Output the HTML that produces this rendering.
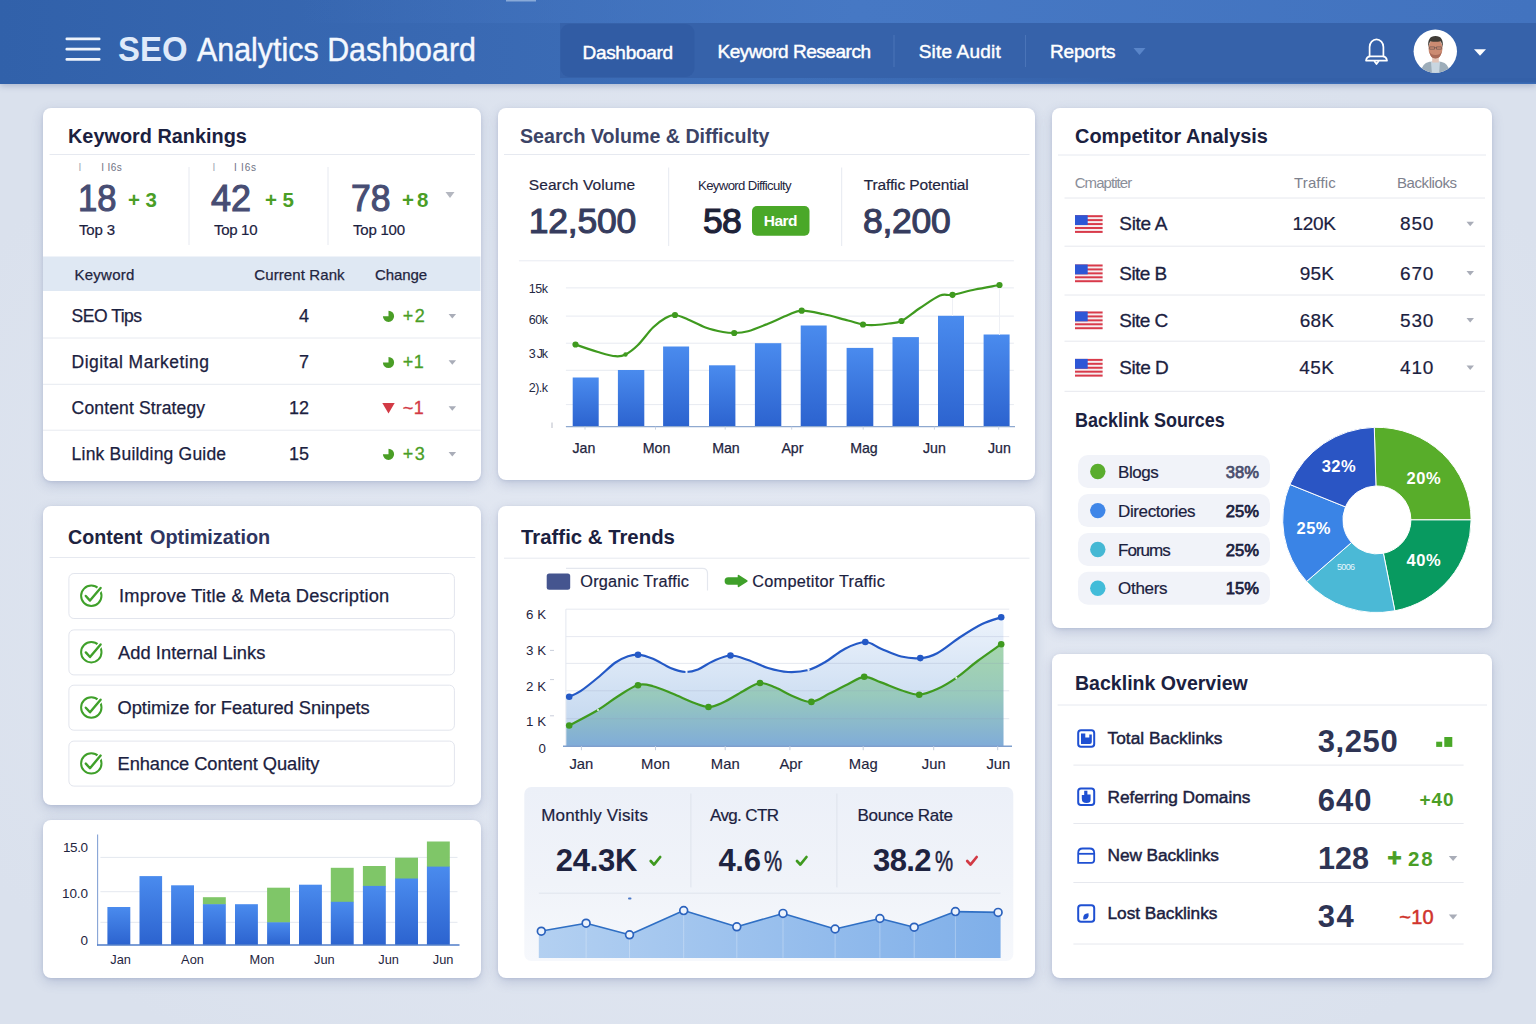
<!DOCTYPE html>
<html lang="en">
<head>
<meta charset="utf-8">
<title>SEO Analytics Dashboard</title>
<style>
html,body{margin:0;padding:0;}
body{width:1536px;height:1024px;overflow:hidden;position:relative;background:#dfe5f0;font-family:"Liberation Sans",sans-serif;}
#bg{position:absolute;left:0;top:0;width:1536px;height:1024px;background:radial-gradient(ellipse 900px 620px at 50% 55%,#e3e8f2 0%,#dfe5f0 60%,#dae1ed 100%);}
#hdr{position:absolute;left:0;top:0;width:1536px;height:84px;background:linear-gradient(90deg,#3161aa 0%,#3969b3 30%,#3f70ba 55%,#3b6cb6 100%);box-shadow:0 2px 6px rgba(60,80,130,.28);}
.card{position:absolute;background:#fff;border-radius:8px;box-shadow:0 4px 12px rgba(84,100,152,.24),0 1px 3px rgba(84,100,152,.14);}
.t{position:absolute;white-space:pre;transform-origin:0 0;}
#gfx{position:absolute;left:0;top:0;}
</style>
</head>
<body>
<div id="bg"></div>
<header id="hdr"></header>
<div class="card" style="left:43.0px;top:108.0px;width:437.5px;height:372.5px;"></div>
<div class="card" style="left:498.0px;top:108.0px;width:536.5px;height:372.0px;"></div>
<div class="card" style="left:1052.0px;top:108.0px;width:440.0px;height:519.5px;"></div>
<div class="card" style="left:43.0px;top:506.0px;width:437.5px;height:298.5px;"></div>
<div class="card" style="left:43.0px;top:820.0px;width:437.7px;height:157.7px;"></div>
<div class="card" style="left:498.0px;top:506.0px;width:536.5px;height:471.9px;"></div>
<div class="card" style="left:1052.0px;top:653.5px;width:440.0px;height:324.0px;"></div>
<svg id="gfx" width="1536" height="1024" viewBox="0 0 1536 1024">
<defs><linearGradient id="gBar" x1="0" y1="0" x2="0" y2="1"><stop offset="0" stop-color="#4a8bee"/><stop offset="1" stop-color="#2c63cf"/></linearGradient><linearGradient id="gBlueA" gradientUnits="userSpaceOnUse" x1="0" y1="612" x2="0" y2="746"><stop offset="0" stop-color="#eef4fc"/><stop offset="1" stop-color="#bdd3ed"/></linearGradient><linearGradient id="gGreenA" gradientUnits="userSpaceOnUse" x1="0" y1="645" x2="0" y2="746"><stop offset="0" stop-color="#a6d6ae"/><stop offset="0.5" stop-color="#98c9bd"/><stop offset="1" stop-color="#80acd8"/></linearGradient><linearGradient id="gSpark" x1="0" y1="0" x2="1" y2="0"><stop offset="0" stop-color="#b3d0f1"/><stop offset="1" stop-color="#7fafe9"/></linearGradient><linearGradient id="gTop" x1="0" y1="0" x2="1" y2="0"><stop offset="0" stop-color="#4476c2" stop-opacity="0"/><stop offset="0.45" stop-color="#4678c4" stop-opacity="1"/><stop offset="1" stop-color="#4273bf" stop-opacity="1"/></linearGradient><linearGradient id="gPanel" x1="0" y1="0" x2="0" y2="1"><stop offset="0" stop-color="#ecf0f8"/><stop offset="0.55" stop-color="#f0f3f9"/><stop offset="1" stop-color="#f6f8fc"/></linearGradient><linearGradient id="gStrip" x1="0" y1="0" x2="1" y2="0"><stop offset="0" stop-color="#3460a8" stop-opacity="0"/><stop offset="0.5" stop-color="#3460a8" stop-opacity="1"/><stop offset="1" stop-color="#3460a8" stop-opacity="1"/></linearGradient><clipPath id="avc"><circle cx="1435.3" cy="51.3" r="21.7"/></clipPath></defs>
<rect x="300" y="0" width="1236" height="23" fill="url(#gTop)"/>
<rect x="560" y="23" width="976" height="55" fill="#3662aa"/>
<rect x="800" y="78" width="736" height="4.500" fill="url(#gStrip)"/>
<rect x="560.5" y="24" width="134" height="53" rx="9" fill="#315ca4"/>
<rect x="506" y="0" width="30" height="1.5" fill="#a9c3e6" opacity=".7"/>
<line x1="894.0" y1="35.0" x2="894.0" y2="67.0" stroke="#4a74b8" stroke-width="1.00"/>
<line x1="1025.5" y1="35.0" x2="1025.5" y2="67.0" stroke="#4a74b8" stroke-width="1.00"/>
<rect x="65.5" y="37.6" width="35" height="2.6" rx="1.2" fill="#eef3fb"/>
<rect x="65.5" y="47.8" width="35" height="2.6" rx="1.2" fill="#eef3fb"/>
<rect x="65.5" y="58.1" width="35" height="2.6" rx="1.2" fill="#eef3fb"/>
<path d="M1133.5 48.0 h12.0 l-6.0 7.0 z" fill="#5985c9"/>
<path d="M1474.0 49.2 h12.0 l-6.0 6.5 z" fill="#ffffff"/>
<g fill="none" stroke="#ffffff" stroke-width="1.7" stroke-linecap="round" stroke-linejoin="round"><path d="M1369.6 56.3 V47 a6.9 7.6 0 0 1 13.8 0 V56.3"/><path d="M1366 60.6 q0.6 -4.3 4.4 -4.3 h12.200 q3.800 0 4.400 4.300 z"/><path d="M1374.600 61.500 l1.900 2.600 l1.900 -2.600"/></g>
<circle cx="1435.3" cy="51.3" r="21.7" fill="#ffffff"/><g clip-path="url(#avc)"><path d="M1420.500 74 q0.500 -10.500 9 -12.300 l11.500 0 q8.500 1.800 9 12.300 z" fill="#9dadb9"/><path d="M1431 61.500 h9 l-1 13 h-7 z" fill="#c9d6e1"/><rect x="1432.200" y="55" width="6.600" height="7.500" fill="#e3c4b8"/><ellipse cx="1435.500" cy="48.500" rx="7" ry="9.800" fill="#cc8b72"/><path d="M1428.300 47.500 q-1.300 -11.500 7.200 -11.500 q8.500 0 7.200 11.500 q-0.800 -5 -2.200 -6.300 q-5 1.300 -10 0 q-1.400 1.300 -2.200 6.300 z" fill="#403c36"/><path d="M1429.300 51.500 q0.700 6.800 6.200 6.900 q5.500 -0.100 6.200 -6.900 q-1.600 3.600 -6.200 3.600 q-4.600 0 -6.200 -3.600 z" fill="#a96a58"/><path d="M1429.600 46.900 h4.900 v2.300 h-4.900 z m6.900 0 h4.900 v2.300 h-4.900 z m-2 .8 h2" stroke="#6a5550" stroke-width="0.700" fill="none"/></g>
<line x1="49.5" y1="154.5" x2="475.0" y2="154.5" stroke="#e6e9f0" stroke-width="1.00"/>
<line x1="189.0" y1="167.0" x2="189.0" y2="245.0" stroke="#e6e9f0" stroke-width="1.00"/>
<line x1="328.0" y1="167.0" x2="328.0" y2="245.0" stroke="#e6e9f0" stroke-width="1.00"/>
<path d="M445.5 192.0 h9.0 l-4.5 6.0 z" fill="#b4b7c0"/>
<rect x="43" y="256.5" width="437.5" height="34.5" fill="#dfe8f3"/>
<path d="M388.5 316.3 L388.5 310.7 A5.6 5.6 0 1 1 382.9 316.3 Z" fill="#4a9e26"/>
<path d="M448.6 314.1 h7.5 l-3.8 4.5 z" fill="#a9adb8"/>
<path d="M388.5 362.5 L388.5 356.9 A5.6 5.6 0 1 1 382.9 362.5 Z" fill="#4a9e26"/>
<path d="M448.6 360.2 h7.5 l-3.8 4.5 z" fill="#a9adb8"/>
<path d="M382.3 403.0 h12.4 l-6.2 10.5 z" fill="#d23a45"/>
<path d="M448.6 406.2 h7.5 l-3.8 4.5 z" fill="#a9adb8"/>
<path d="M388.5 454.3 L388.5 448.7 A5.6 5.6 0 1 1 382.9 454.3 Z" fill="#4a9e26"/>
<path d="M448.6 452.1 h7.5 l-3.8 4.5 z" fill="#a9adb8"/>
<line x1="43.0" y1="338.0" x2="480.5" y2="338.0" stroke="#e7eaf0" stroke-width="1.00"/>
<line x1="43.0" y1="384.3" x2="480.5" y2="384.3" stroke="#e7eaf0" stroke-width="1.00"/>
<line x1="43.0" y1="430.2" x2="480.5" y2="430.2" stroke="#e7eaf0" stroke-width="1.00"/>
<line x1="504.0" y1="154.5" x2="1029.5" y2="154.5" stroke="#e6e9f0" stroke-width="1.00"/>
<line x1="668.7" y1="167.5" x2="668.7" y2="246.0" stroke="#e6e9f0" stroke-width="1.00"/>
<line x1="841.7" y1="167.5" x2="841.7" y2="246.0" stroke="#e6e9f0" stroke-width="1.00"/>
<rect x="752" y="206" width="57.5" height="29.7" rx="5" fill="#4aa828"/>
<line x1="518.9" y1="260.8" x2="1013.9" y2="260.8" stroke="#e9ecf2" stroke-width="1.00"/>
<line x1="565.9" y1="287.9" x2="1013.9" y2="287.9" stroke="#e7eaf1" stroke-width="1.00"/>
<line x1="565.9" y1="316.1" x2="1013.9" y2="316.1" stroke="#e7eaf1" stroke-width="1.00"/>
<line x1="565.9" y1="343.2" x2="1013.9" y2="343.2" stroke="#e7eaf1" stroke-width="1.00"/>
<line x1="565.9" y1="370.3" x2="1013.9" y2="370.3" stroke="#e7eaf1" stroke-width="1.00"/>
<line x1="565.9" y1="404.6" x2="1013.9" y2="404.6" stroke="#e7eaf1" stroke-width="1.00"/>
<rect x="572.7" y="377.5" width="26.0" height="49.1" fill="url(#gBar)"/>
<rect x="617.9" y="370.0" width="26.4" height="56.7" fill="url(#gBar)"/>
<rect x="663.1" y="346.5" width="26.0" height="80.2" fill="url(#gBar)"/>
<rect x="709.0" y="365.3" width="26.4" height="61.4" fill="url(#gBar)"/>
<rect x="754.9" y="343.2" width="26.4" height="83.5" fill="url(#gBar)"/>
<rect x="800.7" y="325.5" width="26.0" height="101.2" fill="url(#gBar)"/>
<rect x="846.6" y="347.9" width="26.7" height="78.8" fill="url(#gBar)"/>
<rect x="892.5" y="337.1" width="26.4" height="89.6" fill="url(#gBar)"/>
<rect x="938.0" y="315.8" width="26.0" height="110.9" fill="url(#gBar)"/>
<rect x="983.6" y="334.5" width="26.0" height="92.1" fill="url(#gBar)"/>
<line x1="565.9" y1="426.7" x2="1015.0" y2="426.7" stroke="#8fa9cf" stroke-width="1.30"/>
<line x1="585.0" y1="426.7" x2="585.0" y2="429.6" stroke="#c9d3e3" stroke-width="1.00"/>
<line x1="655.5" y1="426.7" x2="655.5" y2="429.6" stroke="#c9d3e3" stroke-width="1.00"/>
<line x1="725.2" y1="426.7" x2="725.2" y2="429.6" stroke="#c9d3e3" stroke-width="1.00"/>
<line x1="791.7" y1="426.7" x2="791.7" y2="429.6" stroke="#c9d3e3" stroke-width="1.00"/>
<line x1="863.2" y1="426.7" x2="863.2" y2="429.6" stroke="#c9d3e3" stroke-width="1.00"/>
<line x1="934.4" y1="426.7" x2="934.4" y2="429.6" stroke="#c9d3e3" stroke-width="1.00"/>
<line x1="998.7" y1="426.7" x2="998.7" y2="429.6" stroke="#c9d3e3" stroke-width="1.00"/>
<line x1="552.0" y1="422.5" x2="552.0" y2="428.0" stroke="#b9bdc8" stroke-width="1.00"/>
<path d="M575.5 344.5 C579.2 345.8 591.3 350.1 598.0 352.0 C604.7 353.9 610.9 355.8 615.5 356.2 C620.1 356.6 621.8 356.4 625.5 354.5 C629.2 352.6 633.4 349.5 638.0 345.0 C642.6 340.5 648.4 332.0 653.0 327.5 C657.6 323.0 661.8 320.1 665.5 318.0 C669.2 315.9 671.2 314.8 675.0 315.0 C678.8 315.2 682.9 317.4 688.0 319.5 C693.1 321.6 699.7 325.4 705.5 327.5 C711.3 329.6 718.2 331.1 723.0 332.0 C727.8 332.9 730.0 333.1 734.2 333.0 C738.4 332.9 742.4 332.8 748.0 331.2 C753.6 329.6 761.3 326.4 768.0 323.7 C774.7 321.0 782.4 317.2 788.0 315.0 C793.6 312.8 795.9 310.9 801.7 310.7 C807.5 310.5 815.3 312.4 823.0 314.0 C830.7 315.6 841.3 318.8 848.0 320.5 C854.7 322.2 858.5 323.8 863.0 324.5 C867.5 325.2 870.7 325.2 875.0 325.0 C879.3 324.8 884.6 324.2 889.0 323.5 C893.4 322.8 896.3 323.6 901.5 321.0 C906.7 318.4 913.6 312.2 920.0 308.0 C926.4 303.8 934.6 297.7 940.0 295.5 C945.4 293.3 946.7 295.8 952.5 294.8 C958.3 293.8 967.2 291.1 975.0 289.5 C982.8 287.9 995.4 285.8 999.5 285.0" fill="none" stroke="#3f9a1f" stroke-width="2.2" stroke-linecap="round" stroke-linejoin="round"/>
<circle cx="575.5" cy="344.5" r="3.1" fill="#3f9a1f"/>
<circle cx="675.0" cy="315.0" r="3.1" fill="#3f9a1f"/>
<circle cx="734.2" cy="333.0" r="3.1" fill="#3f9a1f"/>
<circle cx="801.7" cy="310.7" r="3.1" fill="#3f9a1f"/>
<circle cx="863.0" cy="324.5" r="3.1" fill="#3f9a1f"/>
<circle cx="901.5" cy="321.0" r="3.1" fill="#3f9a1f"/>
<circle cx="952.5" cy="294.8" r="3.1" fill="#3f9a1f"/>
<circle cx="999.5" cy="285.0" r="3.1" fill="#3f9a1f"/>
<circle cx="625.5" cy="354.5" r="2.2" fill="#3f9a1f"/>
<line x1="952.5" y1="298.0" x2="952.5" y2="316.0" stroke="#eef0f5" stroke-width="1.00"/>
<line x1="999.5" y1="288.0" x2="999.5" y2="335.0" stroke="#eef0f5" stroke-width="1.00"/>
<line x1="1058.0" y1="155.0" x2="1486.0" y2="155.0" stroke="#e6e9f0" stroke-width="1.00"/>
<line x1="1064.5" y1="198.0" x2="1485.0" y2="198.0" stroke="#e6e8ee" stroke-width="1.00"/>
<line x1="1064.5" y1="246.2" x2="1485.0" y2="246.2" stroke="#e6e8ee" stroke-width="1.00"/>
<line x1="1064.5" y1="295.0" x2="1485.0" y2="295.0" stroke="#e6e8ee" stroke-width="1.00"/>
<line x1="1064.5" y1="341.2" x2="1485.0" y2="341.2" stroke="#e6e8ee" stroke-width="1.00"/>
<line x1="1064.5" y1="391.3" x2="1485.0" y2="391.3" stroke="#e6e8ee" stroke-width="1.00"/>
<g><rect x="1075.0" y="215.2" width="27.6" height="17.7" fill="#f6eef0"/><rect x="1075.0" y="215.20" width="27.6" height="1.97" fill="#d93a4a"/><rect x="1075.0" y="219.13" width="27.6" height="1.97" fill="#d93a4a"/><rect x="1075.0" y="223.07" width="27.6" height="1.97" fill="#d93a4a"/><rect x="1075.0" y="227.00" width="27.6" height="1.97" fill="#d93a4a"/><rect x="1075.0" y="230.93" width="27.6" height="1.97" fill="#d93a4a"/><rect x="1075.0" y="215.2" width="12.7" height="9.83" fill="#2d56d6"/></g>
<path d="M1466.5 221.8 h7.5 l-3.8 4.5 z" fill="#a9adb8"/>
<g><rect x="1075.0" y="264.5" width="27.6" height="17.7" fill="#f6eef0"/><rect x="1075.0" y="264.50" width="27.6" height="1.97" fill="#d93a4a"/><rect x="1075.0" y="268.43" width="27.6" height="1.97" fill="#d93a4a"/><rect x="1075.0" y="272.37" width="27.6" height="1.97" fill="#d93a4a"/><rect x="1075.0" y="276.30" width="27.6" height="1.97" fill="#d93a4a"/><rect x="1075.0" y="280.23" width="27.6" height="1.97" fill="#d93a4a"/><rect x="1075.0" y="264.5" width="12.7" height="9.83" fill="#2d56d6"/></g>
<path d="M1466.5 271.1 h7.5 l-3.8 4.5 z" fill="#a9adb8"/>
<g><rect x="1075.0" y="311.5" width="27.6" height="17.7" fill="#f6eef0"/><rect x="1075.0" y="311.50" width="27.6" height="1.97" fill="#d93a4a"/><rect x="1075.0" y="315.43" width="27.6" height="1.97" fill="#d93a4a"/><rect x="1075.0" y="319.37" width="27.6" height="1.97" fill="#d93a4a"/><rect x="1075.0" y="323.30" width="27.6" height="1.97" fill="#d93a4a"/><rect x="1075.0" y="327.23" width="27.6" height="1.97" fill="#d93a4a"/><rect x="1075.0" y="311.5" width="12.7" height="9.83" fill="#2d56d6"/></g>
<path d="M1466.5 318.1 h7.5 l-3.8 4.5 z" fill="#a9adb8"/>
<g><rect x="1075.0" y="358.9" width="27.6" height="17.7" fill="#f6eef0"/><rect x="1075.0" y="358.90" width="27.6" height="1.97" fill="#d93a4a"/><rect x="1075.0" y="362.83" width="27.6" height="1.97" fill="#d93a4a"/><rect x="1075.0" y="366.77" width="27.6" height="1.97" fill="#d93a4a"/><rect x="1075.0" y="370.70" width="27.6" height="1.97" fill="#d93a4a"/><rect x="1075.0" y="374.63" width="27.6" height="1.97" fill="#d93a4a"/><rect x="1075.0" y="358.9" width="12.7" height="9.83" fill="#2d56d6"/></g>
<path d="M1466.5 365.4 h7.5 l-3.8 4.5 z" fill="#a9adb8"/>
<rect x="1078" y="455.0" width="192" height="33" rx="10" fill="#f1f3f9"/>
<circle cx="1097.8" cy="471.5" r="7.7" fill="#5aad2e"/>
<rect x="1078" y="494.1" width="192" height="33" rx="10" fill="#f1f3f9"/>
<circle cx="1097.8" cy="510.6" r="7.7" fill="#3f86e8"/>
<rect x="1078" y="533.0" width="192" height="33" rx="10" fill="#f1f3f9"/>
<circle cx="1097.8" cy="549.5" r="7.7" fill="#45b8d4"/>
<rect x="1078" y="571.7" width="192" height="33" rx="10" fill="#f1f3f9"/>
<circle cx="1097.8" cy="588.2" r="7.7" fill="#42bcd9"/>
<path d="M1374.27 427.34 A94.2 92.6 0 0 1 1471.10 519.90 L1410.90 519.90 A34.0 34.0 0 0 0 1375.95 485.91 Z" fill="#58ad2a" stroke="#ffffff" stroke-width="1"/>
<path d="M1471.10 519.90 A94.2 92.6 0 0 1 1394.87 610.80 L1383.39 553.28 A34.0 34.0 0 0 0 1410.90 519.90 Z" fill="#089a60" stroke="#ffffff" stroke-width="1"/>
<path d="M1394.87 610.80 A94.2 92.6 0 0 1 1306.57 581.50 L1351.51 542.52 A34.0 34.0 0 0 0 1383.39 553.28 Z" fill="#4bb9d6" stroke="#ffffff" stroke-width="1"/>
<path d="M1306.57 581.50 A94.2 92.6 0 0 1 1289.87 484.46 L1345.49 506.89 A34.0 34.0 0 0 0 1351.51 542.52 Z" fill="#3a84e6" stroke="#ffffff" stroke-width="1"/>
<path d="M1289.87 484.46 A94.2 92.6 0 0 1 1374.27 427.34 L1375.95 485.91 A34.0 34.0 0 0 0 1345.49 506.89 Z" fill="#2a55c4" stroke="#ffffff" stroke-width="1"/>
<line x1="49.5" y1="557.5" x2="475.3" y2="557.5" stroke="#e6e9f0" stroke-width="1.00"/>
<rect x="68.9" y="573.5" width="385.5" height="45" rx="5" fill="#ffffff" stroke="#e2e5ed" stroke-width="1"/>
<circle cx="91.3" cy="595.8" r="10.2" fill="none" stroke="#3fa02a" stroke-width="2"/>
<path d="M85.8 596.0 l4.2 4.6 l10.6 -12.6" fill="none" stroke="#ffffff" stroke-width="5.2" stroke-linecap="round" stroke-linejoin="round"/>
<path d="M85.8 596.0 l4.2 4.6 l10.6 -12.6" fill="none" stroke="#3fa02a" stroke-width="2.4" stroke-linecap="round" stroke-linejoin="round"/>
<rect x="68.9" y="629.9" width="385.5" height="45" rx="5" fill="#ffffff" stroke="#e2e5ed" stroke-width="1"/>
<circle cx="91.3" cy="652.2" r="10.2" fill="none" stroke="#3fa02a" stroke-width="2"/>
<path d="M85.8 652.4 l4.2 4.6 l10.6 -12.6" fill="none" stroke="#ffffff" stroke-width="5.2" stroke-linecap="round" stroke-linejoin="round"/>
<path d="M85.8 652.4 l4.2 4.6 l10.6 -12.6" fill="none" stroke="#3fa02a" stroke-width="2.4" stroke-linecap="round" stroke-linejoin="round"/>
<rect x="68.9" y="685.2" width="385.5" height="45" rx="5" fill="#ffffff" stroke="#e2e5ed" stroke-width="1"/>
<circle cx="91.3" cy="707.5" r="10.2" fill="none" stroke="#3fa02a" stroke-width="2"/>
<path d="M85.8 707.7 l4.2 4.6 l10.6 -12.6" fill="none" stroke="#ffffff" stroke-width="5.2" stroke-linecap="round" stroke-linejoin="round"/>
<path d="M85.8 707.7 l4.2 4.6 l10.6 -12.6" fill="none" stroke="#3fa02a" stroke-width="2.4" stroke-linecap="round" stroke-linejoin="round"/>
<rect x="68.9" y="741.1" width="385.5" height="45" rx="5" fill="#ffffff" stroke="#e2e5ed" stroke-width="1"/>
<circle cx="91.3" cy="763.4" r="10.2" fill="none" stroke="#3fa02a" stroke-width="2"/>
<path d="M85.8 763.6 l4.2 4.6 l10.6 -12.6" fill="none" stroke="#ffffff" stroke-width="5.2" stroke-linecap="round" stroke-linejoin="round"/>
<path d="M85.8 763.6 l4.2 4.6 l10.6 -12.6" fill="none" stroke="#3fa02a" stroke-width="2.4" stroke-linecap="round" stroke-linejoin="round"/>
<line x1="100.4" y1="857.4" x2="457.5" y2="857.4" stroke="#e4e8ef" stroke-width="1.00"/>
<line x1="100.4" y1="891.7" x2="457.5" y2="891.7" stroke="#e4e8ef" stroke-width="1.00"/>
<line x1="100.4" y1="922.3" x2="457.5" y2="922.3" stroke="#e4e8ef" stroke-width="1.00"/>
<rect x="107.4" y="907.0" width="22.9" height="37.9" fill="url(#gBar)"/>
<rect x="139.5" y="876.1" width="22.6" height="68.8" fill="url(#gBar)"/>
<rect x="171.1" y="885.3" width="22.9" height="59.7" fill="url(#gBar)"/>
<rect x="202.9" y="897.2" width="22.9" height="7.5" fill="#7fc668"/>
<rect x="202.9" y="904.2" width="22.9" height="40.7" fill="url(#gBar)"/>
<rect x="235.0" y="904.2" width="22.9" height="40.7" fill="url(#gBar)"/>
<rect x="267.1" y="887.7" width="22.9" height="35.1" fill="#7fc668"/>
<rect x="267.1" y="922.3" width="22.9" height="22.6" fill="url(#gBar)"/>
<rect x="299.0" y="884.7" width="22.9" height="60.3" fill="url(#gBar)"/>
<rect x="330.8" y="867.8" width="22.9" height="34.5" fill="#7fc668"/>
<rect x="330.8" y="901.8" width="22.9" height="43.1" fill="url(#gBar)"/>
<rect x="362.9" y="866.0" width="22.9" height="20.4" fill="#7fc668"/>
<rect x="362.9" y="885.9" width="22.9" height="59.1" fill="url(#gBar)"/>
<rect x="395.1" y="857.7" width="22.9" height="21.3" fill="#7fc668"/>
<rect x="395.1" y="878.5" width="22.9" height="66.4" fill="url(#gBar)"/>
<rect x="426.9" y="841.5" width="22.9" height="25.6" fill="#7fc668"/>
<rect x="426.9" y="866.6" width="22.9" height="78.3" fill="url(#gBar)"/>
<line x1="97.6" y1="834.5" x2="97.6" y2="945.5" stroke="#86a3d6" stroke-width="1.10"/>
<line x1="97.0" y1="945.0" x2="459.5" y2="945.0" stroke="#4f7cc8" stroke-width="1.40"/>
<line x1="504.0" y1="558.2" x2="1029.5" y2="558.2" stroke="#e6e9f0" stroke-width="1.00"/>
<path d="M566 568.3 H702.500 q5 0 5 5 V590.500" fill="none" stroke="#e4e7ee" stroke-width="1.200"/>
<rect x="546.7" y="573.4" width="23.5" height="16.3" rx="2.5" fill="#45558f"/>
<path d="M728.3 581 H739" fill="none" stroke="#3fa02a" stroke-width="7.4" stroke-linecap="round"/>
<path d="M738.5 575.6 L746.800 581 L738.500 586.400 Z" fill="#3fa02a" stroke="#3fa02a" stroke-width="1.600" stroke-linejoin="round"/>
<path d="M566.0 698.5 C566.5 698.2 566.8 698.0 569.2 696.8 C571.6 695.6 575.7 694.4 580.5 691.2 C585.3 688.0 592.2 682.3 598.0 677.5 C603.8 672.7 610.5 666.0 615.5 662.5 C620.5 659.0 624.2 657.5 628.0 656.2 C631.8 654.9 633.8 654.2 638.0 654.6 C642.2 655.0 647.6 656.6 653.0 658.8 C658.4 661.0 665.1 665.8 670.5 668.0 C675.9 670.2 680.9 671.8 685.5 672.0 C690.1 672.2 693.4 671.3 698.0 669.5 C702.6 667.7 707.6 663.5 713.0 661.2 C718.4 658.9 724.7 655.7 730.5 655.5 C736.3 655.3 741.8 657.9 748.0 660.0 C754.2 662.1 761.3 666.0 768.0 668.0 C774.7 670.0 781.2 671.7 788.0 672.0 C794.8 672.3 802.4 671.6 808.5 670.0 C814.6 668.4 818.8 665.8 824.9 662.2 C831.0 658.7 838.4 652.1 845.1 648.7 C851.8 645.3 859.3 642.0 865.3 642.0 C871.3 642.0 875.0 646.3 881.0 648.7 C887.0 651.1 894.7 654.9 901.2 656.5 C907.8 658.1 914.3 658.6 920.3 658.1 C926.3 657.6 930.7 656.6 937.2 653.2 C943.8 649.8 952.1 642.4 959.6 637.5 C967.1 632.6 975.2 627.4 982.1 624.0 C989.0 620.6 997.7 618.5 1001.2 617.3 C1004.8 616.1 1003.0 616.7 1003.4 616.6 L1003.4 746.2 L566.0 746.2 Z" fill="url(#gBlueA)"/>
<path d="M566.0 727.3 C566.5 727.0 563.9 728.4 569.2 725.5 C574.5 722.6 589.9 714.9 598.0 710.0 C606.1 705.1 611.3 700.4 618.0 696.2 C624.7 692.0 632.2 686.7 638.0 685.0 C643.8 683.3 647.2 684.7 653.0 686.2 C658.8 687.7 666.3 691.1 673.0 693.8 C679.7 696.5 687.1 700.3 693.0 702.5 C698.9 704.7 703.5 707.0 708.5 707.0 C713.5 707.0 717.2 705.1 723.0 702.5 C728.8 699.9 736.8 694.5 743.0 691.2 C749.2 688.0 754.6 683.6 760.0 683.0 C765.4 682.4 770.0 685.3 775.5 687.5 C781.0 689.7 787.0 693.8 793.0 696.2 C799.0 698.6 805.3 702.3 811.4 701.9 C817.5 701.5 823.4 696.5 829.4 693.6 C835.4 690.7 841.6 687.4 847.4 684.6 C853.2 681.8 858.6 677.2 864.2 676.8 C869.8 676.4 874.8 680.2 881.0 682.4 C887.2 684.6 894.8 688.2 901.2 690.2 C907.6 692.2 913.2 694.9 919.2 694.7 C925.2 694.5 931.0 691.9 937.2 689.1 C943.4 686.3 949.6 682.6 956.3 677.9 C963.0 673.2 970.1 666.6 977.6 661.0 C985.1 655.4 996.9 647.3 1001.2 644.2 C1005.5 641.1 1003.0 642.9 1003.4 642.6 L1003.4 746.2 L566.0 746.2 Z" fill="url(#gGreenA)"/>
<line x1="565.9" y1="609.2" x2="1009.2" y2="609.2" stroke="rgba(140,155,185,.22)" stroke-width="1.00"/>
<line x1="565.9" y1="636.6" x2="1009.2" y2="636.6" stroke="rgba(140,155,185,.22)" stroke-width="1.00"/>
<line x1="565.9" y1="663.4" x2="1009.2" y2="663.4" stroke="rgba(140,155,185,.22)" stroke-width="1.00"/>
<line x1="565.9" y1="690.8" x2="1009.2" y2="690.8" stroke="rgba(140,155,185,.22)" stroke-width="1.00"/>
<line x1="565.9" y1="718.7" x2="1009.2" y2="718.7" stroke="rgba(140,155,185,.22)" stroke-width="1.00"/>
<line x1="565.9" y1="609.2" x2="565.9" y2="746.2" stroke="#e3e7ef" stroke-width="1.00"/>
<path d="M569.2 696.8 C571.1 695.9 575.7 694.4 580.5 691.2 C585.3 688.0 592.2 682.3 598.0 677.5 C603.8 672.7 610.5 666.0 615.5 662.5 C620.5 659.0 624.2 657.5 628.0 656.2 C631.8 654.9 633.8 654.2 638.0 654.6 C642.2 655.0 647.6 656.6 653.0 658.8 C658.4 661.0 665.1 665.8 670.5 668.0 C675.9 670.2 680.9 671.8 685.5 672.0 C690.1 672.2 693.4 671.3 698.0 669.5 C702.6 667.7 707.6 663.5 713.0 661.2 C718.4 658.9 724.7 655.7 730.5 655.5 C736.3 655.3 741.8 657.9 748.0 660.0 C754.2 662.1 761.3 666.0 768.0 668.0 C774.7 670.0 781.2 671.7 788.0 672.0 C794.8 672.3 802.4 671.6 808.5 670.0 C814.6 668.4 818.8 665.8 824.9 662.2 C831.0 658.7 838.4 652.1 845.1 648.7 C851.8 645.3 859.3 642.0 865.3 642.0 C871.3 642.0 875.0 646.3 881.0 648.7 C887.0 651.1 894.7 654.9 901.2 656.5 C907.8 658.1 914.3 658.6 920.3 658.1 C926.3 657.6 930.7 656.6 937.2 653.2 C943.8 649.8 952.1 642.4 959.6 637.5 C967.1 632.6 975.2 627.4 982.1 624.0 C989.0 620.6 998.0 618.4 1001.2 617.3" fill="none" stroke="#2459c6" stroke-width="2.2" stroke-linecap="round"/>
<path d="M569.2 725.5 C574.0 722.9 589.9 714.9 598.0 710.0 C606.1 705.1 611.3 700.4 618.0 696.2 C624.7 692.0 632.2 686.7 638.0 685.0 C643.8 683.3 647.2 684.7 653.0 686.2 C658.8 687.7 666.3 691.1 673.0 693.8 C679.7 696.5 687.1 700.3 693.0 702.5 C698.9 704.7 703.5 707.0 708.5 707.0 C713.5 707.0 717.2 705.1 723.0 702.5 C728.8 699.9 736.8 694.5 743.0 691.2 C749.2 688.0 754.6 683.6 760.0 683.0 C765.4 682.4 770.0 685.3 775.5 687.5 C781.0 689.7 787.0 693.8 793.0 696.2 C799.0 698.6 805.3 702.3 811.4 701.9 C817.5 701.5 823.4 696.5 829.4 693.6 C835.4 690.7 841.6 687.4 847.4 684.6 C853.2 681.8 858.6 677.2 864.2 676.8 C869.8 676.4 874.8 680.2 881.0 682.4 C887.2 684.6 894.8 688.2 901.2 690.2 C907.6 692.2 913.2 694.9 919.2 694.7 C925.2 694.5 931.0 691.9 937.2 689.1 C943.4 686.3 949.6 682.6 956.3 677.9 C963.0 673.2 970.1 666.6 977.6 661.0 C985.1 655.4 997.3 647.0 1001.2 644.2" fill="none" stroke="#3f9a1f" stroke-width="2.2" stroke-linecap="round"/>
<circle cx="569.2" cy="696.8" r="3.3" fill="#2459c6"/>
<circle cx="638.0" cy="654.8" r="3.3" fill="#2459c6"/>
<circle cx="730.5" cy="655.5" r="3.3" fill="#2459c6"/>
<circle cx="865.3" cy="642.0" r="3.3" fill="#2459c6"/>
<circle cx="920.3" cy="658.1" r="3.3" fill="#2459c6"/>
<circle cx="1001.2" cy="617.3" r="3.3" fill="#2459c6"/>
<circle cx="686.5" cy="672.0" r="1.2" fill="#e9f0fb"/>
<circle cx="808.5" cy="669.8" r="1.2" fill="#e9f0fb"/>
<circle cx="569.2" cy="725.5" r="3.3" fill="#3f9a1f"/>
<circle cx="638.0" cy="685.3" r="3.3" fill="#3f9a1f"/>
<circle cx="708.5" cy="707.0" r="3.3" fill="#3f9a1f"/>
<circle cx="760.0" cy="683.0" r="3.3" fill="#3f9a1f"/>
<circle cx="811.4" cy="701.9" r="3.3" fill="#3f9a1f"/>
<circle cx="864.2" cy="676.8" r="3.3" fill="#3f9a1f"/>
<circle cx="919.2" cy="694.7" r="3.3" fill="#3f9a1f"/>
<circle cx="1001.2" cy="644.2" r="3.3" fill="#3f9a1f"/>
<circle cx="598.0" cy="710.0" r="1.1" fill="#e6f4e0"/>
<circle cx="956.3" cy="677.9" r="1.1" fill="#e6f4e0"/>
<line x1="563.0" y1="746.2" x2="1012.0" y2="746.2" stroke="#7f9fcd" stroke-width="1.40"/>
<line x1="581.4" y1="746.2" x2="581.4" y2="750.2" stroke="#c3cede" stroke-width="1.00"/>
<line x1="655.5" y1="746.2" x2="655.5" y2="750.2" stroke="#c3cede" stroke-width="1.00"/>
<line x1="725.2" y1="746.2" x2="725.2" y2="750.2" stroke="#c3cede" stroke-width="1.00"/>
<line x1="789.9" y1="746.2" x2="789.9" y2="750.2" stroke="#c3cede" stroke-width="1.00"/>
<line x1="863.2" y1="746.2" x2="863.2" y2="750.2" stroke="#c3cede" stroke-width="1.00"/>
<line x1="933.7" y1="746.2" x2="933.7" y2="750.2" stroke="#c3cede" stroke-width="1.00"/>
<line x1="997.7" y1="746.2" x2="997.7" y2="750.2" stroke="#c3cede" stroke-width="1.00"/>
<line x1="550.0" y1="650.4" x2="554.0" y2="650.4" stroke="#c9ceda" stroke-width="1.00"/>
<line x1="550.0" y1="679.6" x2="554.0" y2="679.6" stroke="#c9ceda" stroke-width="1.00"/>
<line x1="550.0" y1="715.8" x2="554.0" y2="715.8" stroke="#c9ceda" stroke-width="1.00"/>
<rect x="524.3" y="787" width="489" height="174" rx="7" fill="url(#gPanel)"/>
<line x1="690.9" y1="793.5" x2="690.9" y2="887.4" stroke="#dfe3ec" stroke-width="1.00"/>
<line x1="836.9" y1="793.5" x2="836.9" y2="887.4" stroke="#dfe3ec" stroke-width="1.00"/>
<path d="M650.7 861.0 l3.3 3.6 l6.2 -7.6" fill="none" stroke="#3f9a1f" stroke-width="2.7" stroke-linecap="round" stroke-linejoin="round"/>
<path d="M797.0 861.0 l3.3 3.6 l6.2 -7.6" fill="none" stroke="#3f9a1f" stroke-width="2.7" stroke-linecap="round" stroke-linejoin="round"/>
<path d="M967.2 861.0 l3.3 3.6 l6.2 -7.6" fill="none" stroke="#d23a45" stroke-width="2.7" stroke-linecap="round" stroke-linejoin="round"/>
<line x1="538.8" y1="893.2" x2="1000.5" y2="893.2" stroke="#dfe4ed" stroke-width="1.00"/>
<path d="M538.8 931.5 L586.1 923.2 L629.5 934.8 L683.7 910.6 L736.8 926.8 L783.0 913.4 L835.1 929.0 L879.9 918.5 L914.2 927.2 L955.4 911.6 L1000.6 912.4 L1000.6 957.9 L538.8 957.9 Z" fill="url(#gSpark)"/>
<line x1="586.1" y1="923.2" x2="586.1" y2="957.9" stroke="rgba(255,255,255,.28)" stroke-width="1.00"/>
<line x1="629.5" y1="934.8" x2="629.5" y2="957.9" stroke="rgba(255,255,255,.28)" stroke-width="1.00"/>
<line x1="683.7" y1="910.6" x2="683.7" y2="957.9" stroke="rgba(255,255,255,.28)" stroke-width="1.00"/>
<line x1="736.8" y1="926.8" x2="736.8" y2="957.9" stroke="rgba(255,255,255,.28)" stroke-width="1.00"/>
<line x1="783.0" y1="913.4" x2="783.0" y2="957.9" stroke="rgba(255,255,255,.28)" stroke-width="1.00"/>
<line x1="835.1" y1="929.0" x2="835.1" y2="957.9" stroke="rgba(255,255,255,.28)" stroke-width="1.00"/>
<line x1="879.9" y1="918.5" x2="879.9" y2="957.9" stroke="rgba(255,255,255,.28)" stroke-width="1.00"/>
<line x1="914.2" y1="927.2" x2="914.2" y2="957.9" stroke="rgba(255,255,255,.28)" stroke-width="1.00"/>
<line x1="955.4" y1="911.6" x2="955.4" y2="957.9" stroke="rgba(255,255,255,.28)" stroke-width="1.00"/>
<path d="M538.8 931.5 L586.1 923.2 L629.5 934.8 L683.7 910.6 L736.8 926.8 L783.0 913.4 L835.1 929.0 L879.9 918.5 L914.2 927.2 L955.4 911.6 L1000.6 912.4" fill="none" stroke="#2f6fc4" stroke-width="1.6" stroke-linejoin="round"/>
<circle cx="541.3" cy="931.2" r="3.9" fill="#edf3fc" stroke="#2b62bd" stroke-width="1.7"/>
<circle cx="586.1" cy="923.2" r="3.9" fill="#edf3fc" stroke="#2b62bd" stroke-width="1.7"/>
<circle cx="629.5" cy="934.8" r="3.9" fill="#edf3fc" stroke="#2b62bd" stroke-width="1.7"/>
<circle cx="683.7" cy="910.6" r="3.9" fill="#edf3fc" stroke="#2b62bd" stroke-width="1.7"/>
<circle cx="736.8" cy="926.8" r="3.9" fill="#edf3fc" stroke="#2b62bd" stroke-width="1.7"/>
<circle cx="783.0" cy="913.4" r="3.9" fill="#edf3fc" stroke="#2b62bd" stroke-width="1.7"/>
<circle cx="835.1" cy="929.0" r="3.9" fill="#edf3fc" stroke="#2b62bd" stroke-width="1.7"/>
<circle cx="879.9" cy="918.5" r="3.9" fill="#edf3fc" stroke="#2b62bd" stroke-width="1.7"/>
<circle cx="914.2" cy="927.2" r="3.9" fill="#edf3fc" stroke="#2b62bd" stroke-width="1.7"/>
<circle cx="955.4" cy="911.6" r="3.9" fill="#edf3fc" stroke="#2b62bd" stroke-width="1.7"/>
<circle cx="998.1" cy="912.4" r="3.9" fill="#edf3fc" stroke="#2b62bd" stroke-width="1.7"/>
<rect x="628" y="897.5" width="3.5" height="2" rx="1" fill="#4a78c8"/>
<line x1="1057.6" y1="705.0" x2="1487.0" y2="705.0" stroke="#e6e9f0" stroke-width="1.00"/>
<line x1="1073.4" y1="765.1" x2="1463.6" y2="765.1" stroke="#e6e8ee" stroke-width="1.00"/>
<line x1="1073.4" y1="823.5" x2="1463.6" y2="823.5" stroke="#e6e8ee" stroke-width="1.00"/>
<line x1="1073.4" y1="882.5" x2="1463.6" y2="882.5" stroke="#e6e8ee" stroke-width="1.00"/>
<line x1="1073.4" y1="944.0" x2="1463.6" y2="944.0" stroke="#e6e8ee" stroke-width="1.00"/>
<g><rect x="1078.2" y="730.2" width="16" height="16.5" rx="2.8" fill="#fff" stroke="#1f50d2" stroke-width="2"/><path d="M1081 733.5 h4.300 v4 h4 v-3 h2.500 v7.500 q0 2 -2 2 h-8.800 z" fill="#1f50d2"/></g>
<g><rect x="1078.2" y="788.5" width="16" height="16.500" rx="2.800" fill="#fff" stroke="#1f50d2" stroke-width="2"/><path d="M1084.2 790.800 h3.200 v3.800 h3.200 v5.400 q0 3 -4 3 q-4.800 0 -4.800 -4.600 v-3.400 h2.400 z" fill="#1f50d2"/></g>
<g fill="none" stroke="#1f50d2" stroke-width="1.800"><path d="M1078.200 862.800 V853 q0 -4.500 4.500 -4.500 h7 q4.500 0 4.500 4.500 V860 q0 2.800 -2.800 2.800 z"/><path d="M1078.200 853.800 h16"/></g>
<g><rect x="1078.200" y="905.200" width="16" height="16.500" rx="2.800" fill="#fff" stroke="#1f50d2" stroke-width="2"/><path d="M1083.200 919.500 q-0.600 -6.500 5.300 -6.300 q1.200 6.300 -5.300 6.300 z" fill="#1f50d2"/></g>
<rect x="1436.200" y="741.700" width="6" height="5.200" fill="#4aa828"/><rect x="1444.300" y="737" width="8" height="9.900" fill="#4aa828"/>
<path d="M1448.8 856.0 h8.5 l-4.2 5.0 z" fill="#a9adb8"/>
<path d="M1448.8 914.5 h8.5 l-4.2 5.0 z" fill="#a9adb8"/>
</svg>
<span class="t" style="left:117.50px;top:32.00px;font-size:34.60px;line-height:34.60px;color:#dfeafa;font-weight:700;transform:scaleX(0.9512);">SEO</span>
<span class="t" style="left:196.50px;top:34.00px;font-size:32.40px;line-height:32.40px;color:#f4f8fe;-webkit-text-stroke:0.40px #f4f8fe;transform:scaleX(0.9389);">Analytics Dashboard</span>
<span class="t" style="left:582.50px;top:43.00px;font-size:19.00px;line-height:19.00px;color:#ffffff;letter-spacing:-0.306px;-webkit-text-stroke:0.45px #ffffff;">Dashboard</span>
<span class="t" style="left:717.50px;top:42.00px;font-size:19.00px;line-height:19.00px;color:#ffffff;letter-spacing:-0.468px;-webkit-text-stroke:0.45px #ffffff;">Keyword Research</span>
<span class="t" style="left:918.70px;top:42.00px;font-size:19.00px;line-height:19.00px;color:#ffffff;letter-spacing:0.191px;-webkit-text-stroke:0.45px #ffffff;">Site Audit</span>
<span class="t" style="left:1050.00px;top:42.00px;font-size:19.00px;line-height:19.00px;color:#ffffff;letter-spacing:-0.171px;-webkit-text-stroke:0.45px #ffffff;">Reports</span>
<span class="t" style="left:67.50px;top:126.00px;font-size:20.70px;line-height:20.70px;color:#1b2140;font-weight:700;transform:scaleX(0.9606);">Keyword Rankings</span>
<span class="t" style="left:78.60px;top:163.00px;font-size:10.00px;line-height:10.00px;color:#a3a7b3;">I</span>
<span class="t" style="left:101.20px;top:163.00px;font-size:10.00px;line-height:10.00px;color:#6f7384;letter-spacing:0.400px;">I I6s</span>
<span class="t" style="left:212.60px;top:163.00px;font-size:10.00px;line-height:10.00px;color:#a3a7b3;">I</span>
<span class="t" style="left:234.00px;top:163.00px;font-size:10.00px;line-height:10.00px;color:#6f7384;letter-spacing:0.775px;">I I6s</span>
<span class="t" style="left:77.80px;top:181.00px;font-size:36.20px;line-height:36.20px;color:#474d73;-webkit-text-stroke:1.10px #474d73;transform:scaleX(0.9562);">18</span>
<span class="t" style="left:128.00px;top:190.00px;font-size:20.50px;line-height:20.50px;color:#4a9e26;font-weight:700;letter-spacing:5.627px;">+3</span>
<span class="t" style="left:79.00px;top:222.00px;font-size:15.00px;line-height:15.00px;color:#1b2140;letter-spacing:-0.173px;-webkit-text-stroke:0.20px #1b2140;">Top 3</span>
<span class="t" style="left:211.00px;top:181.00px;font-size:36.20px;line-height:36.20px;color:#474d73;-webkit-text-stroke:1.10px #474d73;transform:scaleX(0.9934);">42</span>
<span class="t" style="left:265.00px;top:190.00px;font-size:20.50px;line-height:20.50px;color:#4a9e26;font-weight:700;letter-spacing:5.627px;">+5</span>
<span class="t" style="left:214.00px;top:222.00px;font-size:15.00px;line-height:15.00px;color:#1b2140;letter-spacing:-0.307px;-webkit-text-stroke:0.20px #1b2140;">Top 10</span>
<span class="t" style="left:351.00px;top:181.00px;font-size:36.20px;line-height:36.20px;color:#474d73;-webkit-text-stroke:1.10px #474d73;transform:scaleX(0.9810);">78</span>
<span class="t" style="left:402.00px;top:190.00px;font-size:20.50px;line-height:20.50px;color:#4a9e26;font-weight:700;letter-spacing:3.127px;">+8</span>
<span class="t" style="left:353.00px;top:222.00px;font-size:15.00px;line-height:15.00px;color:#1b2140;letter-spacing:-0.229px;-webkit-text-stroke:0.20px #1b2140;">Top 100</span>
<span class="t" style="left:74.40px;top:267.00px;font-size:15.00px;line-height:15.00px;color:#1f2540;letter-spacing:0.273px;-webkit-text-stroke:0.25px #1f2540;">Keyword</span>
<span class="t" style="left:254.30px;top:267.00px;font-size:15.00px;line-height:15.00px;color:#1f2540;letter-spacing:0.100px;-webkit-text-stroke:0.25px #1f2540;">Current Rank</span>
<span class="t" style="left:374.90px;top:267.00px;font-size:15.00px;line-height:15.00px;color:#1f2540;letter-spacing:-0.048px;-webkit-text-stroke:0.25px #1f2540;">Change</span>
<span class="t" style="left:71.60px;top:308.00px;font-size:17.50px;line-height:17.50px;color:#1b2140;letter-spacing:-0.487px;-webkit-text-stroke:0.25px #1b2140;">SEO Tips</span>
<span class="t" style="left:298.99px;top:307.00px;font-size:18.00px;line-height:18.00px;color:#1b2140;-webkit-text-stroke:0.25px #1b2140;">4</span>
<span class="t" style="left:402.70px;top:307.00px;font-size:18.00px;line-height:18.00px;color:#4a9e26;letter-spacing:1.477px;-webkit-text-stroke:0.30px #4a9e26;">+2</span>
<span class="t" style="left:71.60px;top:354.00px;font-size:17.50px;line-height:17.50px;color:#1b2140;letter-spacing:0.442px;-webkit-text-stroke:0.25px #1b2140;">Digital Marketing</span>
<span class="t" style="left:298.99px;top:353.00px;font-size:18.00px;line-height:18.00px;color:#1b2140;-webkit-text-stroke:0.25px #1b2140;">7</span>
<span class="t" style="left:402.70px;top:353.00px;font-size:18.00px;line-height:18.00px;color:#4a9e26;letter-spacing:0.477px;-webkit-text-stroke:0.30px #4a9e26;">+1</span>
<span class="t" style="left:71.60px;top:400.00px;font-size:17.50px;line-height:17.50px;color:#1b2140;letter-spacing:0.145px;-webkit-text-stroke:0.25px #1b2140;">Content Strategy</span>
<span class="t" style="left:288.98px;top:399.00px;font-size:18.00px;line-height:18.00px;color:#1b2140;-webkit-text-stroke:0.25px #1b2140;">12</span>
<span class="t" style="left:402.70px;top:399.00px;font-size:18.00px;line-height:18.00px;color:#d23a45;letter-spacing:0.477px;-webkit-text-stroke:0.30px #d23a45;">~1</span>
<span class="t" style="left:71.60px;top:446.00px;font-size:17.50px;line-height:17.50px;color:#1b2140;letter-spacing:0.206px;-webkit-text-stroke:0.25px #1b2140;">Link Building Guide</span>
<span class="t" style="left:288.98px;top:445.00px;font-size:18.00px;line-height:18.00px;color:#1b2140;-webkit-text-stroke:0.25px #1b2140;">15</span>
<span class="t" style="left:402.70px;top:445.00px;font-size:18.00px;line-height:18.00px;color:#4a9e26;letter-spacing:1.477px;-webkit-text-stroke:0.30px #4a9e26;">+3</span>
<span class="t" style="left:520.00px;top:126.00px;font-size:20.70px;line-height:20.70px;color:#3c4466;font-weight:700;transform:scaleX(0.9485);">Search Volume &amp; Difficulty</span>
<span class="t" style="left:528.70px;top:177.00px;font-size:15.50px;line-height:15.50px;color:#1f2540;letter-spacing:0.115px;-webkit-text-stroke:0.20px #1f2540;">Search Volume</span>
<span class="t" style="left:528.70px;top:204.00px;font-size:35.50px;line-height:35.50px;color:#363c5e;letter-spacing:-0.217px;-webkit-text-stroke:1.10px #363c5e;">12,500</span>
<span class="t" style="left:698.00px;top:179.00px;font-size:13.20px;line-height:13.20px;color:#1f2540;letter-spacing:-0.645px;">Keyword Difficulty</span>
<span class="t" style="left:703.00px;top:204.00px;font-size:35.50px;line-height:35.50px;color:#1e2238;letter-spacing:-0.788px;-webkit-text-stroke:1.20px #1e2238;">58</span>
<span class="t" style="left:763.70px;top:213.00px;font-size:15.50px;line-height:15.50px;color:#ffffff;font-weight:700;letter-spacing:-0.505px;">Hard</span>
<span class="t" style="left:863.70px;top:177.00px;font-size:15.50px;line-height:15.50px;color:#1f2540;letter-spacing:-0.115px;-webkit-text-stroke:0.20px #1f2540;">Traffic Potential</span>
<span class="t" style="left:863.00px;top:204.00px;font-size:35.50px;line-height:35.50px;color:#363c5e;letter-spacing:-0.285px;-webkit-text-stroke:1.10px #363c5e;">8,200</span>
<span class="t" style="left:528.70px;top:283.00px;font-size:12.50px;line-height:12.50px;color:#252a44;letter-spacing:-0.426px;">15k</span>
<span class="t" style="left:528.70px;top:314.00px;font-size:12.50px;line-height:12.50px;color:#252a44;letter-spacing:-0.426px;">60k</span>
<span class="t" style="left:528.70px;top:348.00px;font-size:12.50px;line-height:12.50px;color:#252a44;letter-spacing:-1.208px;">3 Jk</span>
<span class="t" style="left:528.70px;top:382.00px;font-size:12.50px;line-height:12.50px;color:#252a44;letter-spacing:-0.512px;">2).k</span>
<span class="t" style="left:572.50px;top:441.00px;font-size:14.20px;line-height:14.20px;color:#1f2540;-webkit-text-stroke:0.25px #1f2540;">Jan</span>
<span class="t" style="left:642.76px;top:441.00px;font-size:14.20px;line-height:14.20px;color:#1f2540;-webkit-text-stroke:0.25px #1f2540;">Mon</span>
<span class="t" style="left:712.13px;top:441.00px;font-size:14.20px;line-height:14.20px;color:#1f2540;-webkit-text-stroke:0.25px #1f2540;">Man</span>
<span class="t" style="left:781.38px;top:441.00px;font-size:14.20px;line-height:14.20px;color:#1f2540;-webkit-text-stroke:0.25px #1f2540;">Apr</span>
<span class="t" style="left:850.16px;top:441.00px;font-size:14.20px;line-height:14.20px;color:#1f2540;-webkit-text-stroke:0.25px #1f2540;">Mag</span>
<span class="t" style="left:922.98px;top:441.00px;font-size:14.20px;line-height:14.20px;color:#1f2540;-webkit-text-stroke:0.25px #1f2540;">Jun</span>
<span class="t" style="left:988.02px;top:441.00px;font-size:14.20px;line-height:14.20px;color:#1f2540;-webkit-text-stroke:0.25px #1f2540;">Jun</span>
<span class="t" style="left:1074.70px;top:126.00px;font-size:20.70px;line-height:20.70px;color:#1b2140;font-weight:700;transform:scaleX(0.9625);">Competitor Analysis</span>
<span class="t" style="left:1074.70px;top:175.00px;font-size:15.00px;line-height:15.00px;color:#8a8e99;letter-spacing:-0.940px;">Cmaptiter</span>
<span class="t" style="left:1294.00px;top:175.00px;font-size:15.00px;line-height:15.00px;color:#7d818d;letter-spacing:0.143px;">Traffic</span>
<span class="t" style="left:1397.00px;top:175.00px;font-size:15.00px;line-height:15.00px;color:#7d818d;letter-spacing:-0.419px;">Backlioks</span>
<span class="t" style="left:1119.30px;top:214.00px;font-size:19.00px;line-height:19.00px;color:#1b2140;letter-spacing:-0.289px;-webkit-text-stroke:0.30px #1b2140;">Site A</span>
<span class="t" style="left:1292.40px;top:214.00px;font-size:19.00px;line-height:19.00px;color:#1b2140;letter-spacing:-0.258px;-webkit-text-stroke:0.20px #1b2140;">120K</span>
<span class="t" style="left:1400.00px;top:214.00px;font-size:19.00px;line-height:19.00px;color:#1b2140;letter-spacing:0.850px;-webkit-text-stroke:0.20px #1b2140;">850</span>
<span class="t" style="left:1119.30px;top:264.00px;font-size:19.00px;line-height:19.00px;color:#1b2140;letter-spacing:-0.539px;-webkit-text-stroke:0.30px #1b2140;">Site B</span>
<span class="t" style="left:1299.80px;top:264.00px;font-size:19.00px;line-height:19.00px;color:#1b2140;letter-spacing:0.197px;-webkit-text-stroke:0.20px #1b2140;">95K</span>
<span class="t" style="left:1400.00px;top:264.00px;font-size:19.00px;line-height:19.00px;color:#1b2140;letter-spacing:0.850px;-webkit-text-stroke:0.20px #1b2140;">670</span>
<span class="t" style="left:1119.30px;top:311.00px;font-size:19.00px;line-height:19.00px;color:#1b2140;letter-spacing:-0.548px;-webkit-text-stroke:0.30px #1b2140;">Site C</span>
<span class="t" style="left:1299.80px;top:311.00px;font-size:19.00px;line-height:19.00px;color:#1b2140;letter-spacing:0.197px;-webkit-text-stroke:0.20px #1b2140;">68K</span>
<span class="t" style="left:1400.00px;top:311.00px;font-size:19.00px;line-height:19.00px;color:#1b2140;letter-spacing:0.850px;-webkit-text-stroke:0.20px #1b2140;">530</span>
<span class="t" style="left:1119.30px;top:358.00px;font-size:19.00px;line-height:19.00px;color:#1b2140;letter-spacing:-0.448px;-webkit-text-stroke:0.30px #1b2140;">Site D</span>
<span class="t" style="left:1299.20px;top:358.00px;font-size:19.00px;line-height:19.00px;color:#1b2140;letter-spacing:0.497px;-webkit-text-stroke:0.20px #1b2140;">45K</span>
<span class="t" style="left:1400.00px;top:358.00px;font-size:19.00px;line-height:19.00px;color:#1b2140;letter-spacing:0.850px;-webkit-text-stroke:0.20px #1b2140;">410</span>
<span class="t" style="left:1074.90px;top:411.00px;font-size:19.30px;line-height:19.30px;color:#1b2140;font-weight:700;transform:scaleX(0.9322);">Backlink Sources</span>
<span class="t" style="left:1118.00px;top:464.00px;font-size:17.00px;line-height:17.00px;color:#1b2140;letter-spacing:-0.457px;-webkit-text-stroke:0.20px #1b2140;">Blogs</span>
<span class="t" style="left:1225.70px;top:465.00px;font-size:16.60px;line-height:16.60px;color:#4a4f6e;letter-spacing:0.037px;-webkit-text-stroke:0.75px #4a4f6e;">38%</span>
<span class="t" style="left:1118.00px;top:503.00px;font-size:17.00px;line-height:17.00px;color:#1b2140;letter-spacing:-0.374px;-webkit-text-stroke:0.20px #1b2140;">Directories</span>
<span class="t" style="left:1225.70px;top:504.00px;font-size:16.60px;line-height:16.60px;color:#1b2140;letter-spacing:0.037px;-webkit-text-stroke:0.75px #1b2140;">25%</span>
<span class="t" style="left:1118.00px;top:542.00px;font-size:17.00px;line-height:17.00px;color:#1b2140;letter-spacing:-0.964px;-webkit-text-stroke:0.20px #1b2140;">Forums</span>
<span class="t" style="left:1225.70px;top:543.00px;font-size:16.60px;line-height:16.60px;color:#1b2140;letter-spacing:0.037px;-webkit-text-stroke:0.75px #1b2140;">25%</span>
<span class="t" style="left:1118.00px;top:580.00px;font-size:17.00px;line-height:17.00px;color:#1b2140;letter-spacing:-0.284px;-webkit-text-stroke:0.20px #1b2140;">Others</span>
<span class="t" style="left:1225.70px;top:581.00px;font-size:16.60px;line-height:16.60px;color:#1b2140;letter-spacing:0.037px;-webkit-text-stroke:0.75px #1b2140;">15%</span>
<span class="t" style="left:1321.70px;top:458.00px;font-size:16.50px;line-height:16.50px;color:#ffffff;font-weight:700;letter-spacing:0.488px;">32%</span>
<span class="t" style="left:1406.60px;top:470.00px;font-size:16.50px;line-height:16.50px;color:#ffffff;font-weight:700;letter-spacing:0.488px;">20%</span>
<span class="t" style="left:1296.50px;top:520.00px;font-size:16.50px;line-height:16.50px;color:#ffffff;font-weight:700;letter-spacing:0.488px;">25%</span>
<span class="t" style="left:1406.60px;top:552.00px;font-size:16.50px;line-height:16.50px;color:#ffffff;font-weight:700;letter-spacing:0.488px;">40%</span>
<span class="t" style="left:1337.00px;top:563.00px;font-size:9.00px;line-height:9.00px;color:#e8f6fb;letter-spacing:-0.674px;">5006</span>
<span class="t" style="left:67.50px;top:527.00px;font-size:20.70px;line-height:20.70px;color:#1e2340;font-weight:700;transform:scaleX(0.9516);">Content</span>
<span class="t" style="left:149.70px;top:527.00px;font-size:20.70px;line-height:20.70px;color:#2e3560;font-weight:700;transform:scaleX(0.9597);">Optimization</span>
<span class="t" style="left:119.00px;top:587.00px;font-size:18.30px;line-height:18.30px;color:#1b2140;letter-spacing:0.196px;-webkit-text-stroke:0.25px #1b2140;">Improve Title &amp; Meta Description</span>
<span class="t" style="left:118.00px;top:644.00px;font-size:18.30px;line-height:18.30px;color:#1b2140;letter-spacing:0.059px;-webkit-text-stroke:0.25px #1b2140;">Add Internal Links</span>
<span class="t" style="left:117.50px;top:699.00px;font-size:18.30px;line-height:18.30px;color:#1b2140;letter-spacing:-0.027px;-webkit-text-stroke:0.25px #1b2140;">Optimize for Featured Sninpets</span>
<span class="t" style="left:117.50px;top:755.00px;font-size:18.30px;line-height:18.30px;color:#1b2140;letter-spacing:-0.067px;-webkit-text-stroke:0.25px #1b2140;">Enhance Content Quality</span>
<span class="t" style="left:63.00px;top:841.00px;font-size:13.50px;line-height:13.50px;color:#1f2540;letter-spacing:-0.424px;">15.0</span>
<span class="t" style="left:62.00px;top:887.00px;font-size:13.50px;line-height:13.50px;color:#1f2540;letter-spacing:-0.091px;">10.0</span>
<span class="t" style="left:80.49px;top:934.00px;font-size:13.50px;line-height:13.50px;color:#1f2540;">0</span>
<span class="t" style="left:110.26px;top:954.00px;font-size:12.80px;line-height:12.80px;color:#1f2540;">Jan</span>
<span class="t" style="left:181.10px;top:954.00px;font-size:12.80px;line-height:12.80px;color:#1f2540;">Aon</span>
<span class="t" style="left:249.50px;top:954.00px;font-size:12.80px;line-height:12.80px;color:#1f2540;">Mon</span>
<span class="t" style="left:314.05px;top:954.00px;font-size:12.80px;line-height:12.80px;color:#1f2540;">Jun</span>
<span class="t" style="left:378.31px;top:954.00px;font-size:12.80px;line-height:12.80px;color:#1f2540;">Jun</span>
<span class="t" style="left:432.78px;top:954.00px;font-size:12.80px;line-height:12.80px;color:#1f2540;">Jun</span>
<span class="t" style="left:521.40px;top:527.00px;font-size:20.70px;line-height:20.70px;color:#1b2140;font-weight:700;transform:scaleX(0.9843);">Traffic &amp; Trends</span>
<span class="t" style="left:580.30px;top:573.00px;font-size:16.30px;line-height:16.30px;color:#1b2140;letter-spacing:0.215px;-webkit-text-stroke:0.20px #1b2140;">Organic Traffic</span>
<span class="t" style="left:752.30px;top:573.00px;font-size:16.30px;line-height:16.30px;color:#1b2140;letter-spacing:0.257px;-webkit-text-stroke:0.20px #1b2140;">Competitor Traffic</span>
<span class="t" style="left:526.00px;top:608.00px;font-size:13.30px;line-height:13.30px;color:#1f2540;letter-spacing:0.018px;">6 K</span>
<span class="t" style="left:526.00px;top:644.00px;font-size:13.30px;line-height:13.30px;color:#1f2540;letter-spacing:0.018px;">3 K</span>
<span class="t" style="left:526.00px;top:680.00px;font-size:13.30px;line-height:13.30px;color:#1f2540;letter-spacing:0.018px;">2 K</span>
<span class="t" style="left:526.00px;top:715.00px;font-size:13.30px;line-height:13.30px;color:#1f2540;letter-spacing:0.018px;">1 K</span>
<span class="t" style="left:538.50px;top:742.00px;font-size:13.30px;line-height:13.30px;color:#1f2540;">0</span>
<span class="t" style="left:569.48px;top:757.00px;font-size:14.80px;line-height:14.80px;color:#1f2540;-webkit-text-stroke:0.15px #1f2540;">Jan</span>
<span class="t" style="left:641.09px;top:757.00px;font-size:14.80px;line-height:14.80px;color:#1f2540;-webkit-text-stroke:0.15px #1f2540;">Mon</span>
<span class="t" style="left:710.83px;top:757.00px;font-size:14.80px;line-height:14.80px;color:#1f2540;-webkit-text-stroke:0.15px #1f2540;">Man</span>
<span class="t" style="left:779.47px;top:757.00px;font-size:14.80px;line-height:14.80px;color:#1f2540;-webkit-text-stroke:0.15px #1f2540;">Apr</span>
<span class="t" style="left:848.85px;top:757.00px;font-size:14.80px;line-height:14.80px;color:#1f2540;-webkit-text-stroke:0.15px #1f2540;">Mag</span>
<span class="t" style="left:921.77px;top:757.00px;font-size:14.80px;line-height:14.80px;color:#1f2540;-webkit-text-stroke:0.15px #1f2540;">Jun</span>
<span class="t" style="left:986.45px;top:757.00px;font-size:14.80px;line-height:14.80px;color:#1f2540;-webkit-text-stroke:0.15px #1f2540;">Jun</span>
<span class="t" style="left:541.30px;top:807.00px;font-size:17.00px;line-height:17.00px;color:#1b2140;letter-spacing:0.157px;-webkit-text-stroke:0.20px #1b2140;">Monthly Visits</span>
<span class="t" style="left:710.00px;top:807.00px;font-size:17.00px;line-height:17.00px;color:#1b2140;letter-spacing:-0.625px;-webkit-text-stroke:0.20px #1b2140;">Avg. CTR</span>
<span class="t" style="left:857.50px;top:807.00px;font-size:17.00px;line-height:17.00px;color:#1b2140;letter-spacing:-0.289px;-webkit-text-stroke:0.20px #1b2140;">Bounce Rate</span>
<span class="t" style="left:555.80px;top:845.00px;font-size:31.00px;line-height:31.00px;color:#1e2340;font-weight:700;letter-spacing:-0.280px;">24.3K</span>
<span class="t" style="left:718.40px;top:845.00px;font-size:31.00px;line-height:31.00px;color:#1e2340;font-weight:700;letter-spacing:-0.297px;">4.6</span>
<span class="t" style="left:764.30px;top:846.00px;font-size:30.00px;line-height:30.00px;color:#1e2340;-webkit-text-stroke:0.50px #1e2340;transform:scaleX(0.6800);">%</span>
<span class="t" style="left:873.00px;top:845.00px;font-size:31.00px;line-height:31.00px;color:#1e2340;font-weight:700;letter-spacing:-0.611px;">38.2</span>
<span class="t" style="left:935.00px;top:846.00px;font-size:30.00px;line-height:30.00px;color:#1e2340;-webkit-text-stroke:0.50px #1e2340;transform:scaleX(0.6800);">%</span>
<span class="t" style="left:1075.20px;top:673.00px;font-size:20.40px;line-height:20.40px;color:#1b2140;font-weight:700;transform:scaleX(0.9584);">Backlink Overview</span>
<span class="t" style="left:1107.50px;top:730.00px;font-size:17.30px;line-height:17.30px;color:#1b2140;letter-spacing:0.042px;-webkit-text-stroke:0.45px #1b2140;">Total Backlinks</span>
<span class="t" style="left:1317.70px;top:726.00px;font-size:31.00px;line-height:31.00px;color:#2e3454;font-weight:700;letter-spacing:0.606px;">3,250</span>
<span class="t" style="left:1107.50px;top:789.00px;font-size:17.30px;line-height:17.30px;color:#1b2140;letter-spacing:-0.076px;-webkit-text-stroke:0.45px #1b2140;">Referring Domains</span>
<span class="t" style="left:1317.70px;top:785.00px;font-size:31.00px;line-height:31.00px;color:#2e3454;font-weight:700;letter-spacing:1.040px;">640</span>
<span class="t" style="left:1107.50px;top:847.00px;font-size:17.30px;line-height:17.30px;color:#1b2140;letter-spacing:-0.082px;-webkit-text-stroke:0.45px #1b2140;">New Backlinks</span>
<span class="t" style="left:1317.70px;top:843.00px;font-size:31.00px;line-height:31.00px;color:#2e3454;font-weight:700;transform:scaleX(0.9861);">128</span>
<span class="t" style="left:1107.50px;top:905.00px;font-size:17.30px;line-height:17.30px;color:#1b2140;letter-spacing:-0.044px;-webkit-text-stroke:0.45px #1b2140;">Lost Backlinks</span>
<span class="t" style="left:1317.70px;top:901.00px;font-size:31.00px;line-height:31.00px;color:#2e3454;font-weight:700;letter-spacing:1.520px;">34</span>
<span class="t" style="left:1419.60px;top:790.00px;font-size:19.00px;line-height:19.00px;color:#4a9e26;font-weight:700;letter-spacing:0.886px;">+40</span>
<span class="t" style="left:1387.50px;top:846.00px;font-size:24.00px;line-height:24.00px;color:#4a9e26;font-weight:700;-webkit-text-stroke:0.90px #4a9e26;">+</span>
<span class="t" style="left:1408.00px;top:849.00px;font-size:20.50px;line-height:20.50px;color:#4a9e26;font-weight:700;letter-spacing:1.799px;">28</span>
<span class="t" style="left:1399.30px;top:907.00px;font-size:20.00px;line-height:20.00px;color:#d0342c;letter-spacing:0.237px;-webkit-text-stroke:0.50px #d0342c;">~10</span>
</body>
</html>
